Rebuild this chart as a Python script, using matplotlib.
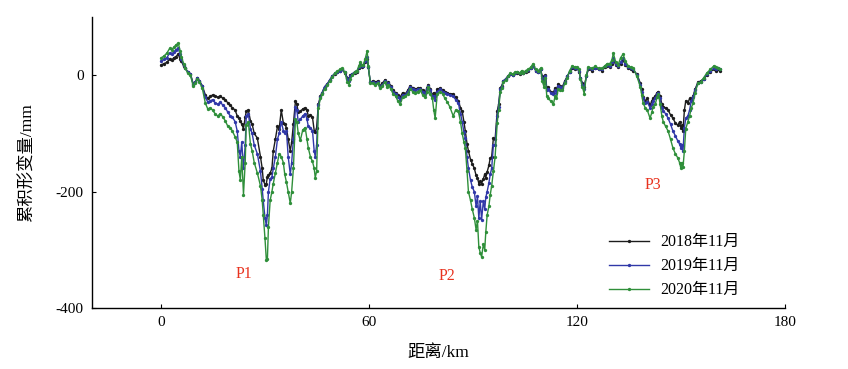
import matplotlib
matplotlib.use("Agg")
import matplotlib.pyplot as plt

plt.rcParams['font.family'] = ['Liberation Serif', 'Noto Sans CJK SC']
plt.rcParams['axes.unicode_minus'] = False

# distance along profile (km)
dist_km = [
    0.0, 0.8, 1.6, 2.4, 3.0, 3.6, 4.2, 4.9, 5.4, 5.8, 6.4, 6.9, 7.6, 8.4, 9.2, 9.8,
    10.4, 11.0, 11.8, 12.7, 13.4, 14.1, 14.8, 15.6, 16.3, 17.0, 17.8, 18.5, 19.2, 19.9,
    20.5, 21.3, 21.9, 22.4, 22.8, 23.2, 23.7, 24.2, 24.5, 25.1, 25.7, 26.2, 26.8, 27.7,
    28.6, 29.1, 29.4, 29.9, 30.3, 30.6, 30.9, 31.4, 31.9, 32.3, 32.9, 33.5, 34.0, 34.6,
    35.2, 35.6, 36.1, 36.6, 37.2, 37.6, 38.1, 38.7, 39.1, 39.5, 40.1, 40.8, 41.5, 42.0,
    42.4, 43.0, 43.6, 44.1, 44.4, 44.8, 45.3, 45.9, 46.4, 47.1, 47.9, 48.6, 49.3, 50.0,
    50.8, 51.5, 52.2, 52.9, 53.7, 54.2, 54.5, 55.1, 55.8, 56.5, 57.0, 57.4, 57.9, 58.3,
    58.8, 59.4, 59.7, 60.3, 61.0, 61.7, 62.4, 63.1, 63.8, 64.5, 65.1, 65.5, 66.2, 66.9,
    67.6, 68.2, 68.9, 69.6, 70.4, 71.1, 71.8, 72.5, 73.3, 74.0, 74.7, 75.4, 76.2, 76.6,
    77.0, 77.6, 78.2, 78.6, 79.0, 79.6, 80.5, 81.2, 81.8, 82.5, 83.2, 84.2, 84.9, 85.7,
    86.3, 86.8, 87.3, 87.7, 88.2, 88.6, 89.2, 89.7, 90.3, 90.8, 91.2, 91.6, 92.0, 92.4,
    92.9, 93.3, 93.6, 94.0, 94.5, 94.9, 95.3, 95.8, 96.3, 96.9, 97.3, 97.8, 98.2, 98.7,
    99.4, 100.0, 100.7, 101.4, 102.0, 102.7, 103.4, 104.0, 104.4, 105.1, 105.9, 106.6,
    107.3, 108.0, 108.8, 109.4, 109.9, 110.4, 110.8, 111.2, 111.6, 112.3, 113.1, 113.6,
    114.0, 114.5, 115.1, 115.7, 116.4, 117.1, 117.8, 118.6, 119.3, 120.0, 120.5, 120.9,
    121.5, 122.0, 122.6, 123.2, 124.2, 125.2, 126.2, 127.2, 127.9, 128.7, 129.4, 130.0,
    130.4, 131.1, 131.8, 132.5, 133.2, 133.9, 134.7, 135.4, 136.2, 137.2, 138.2, 138.6,
    139.0, 139.6, 140.2, 141.0, 141.5, 141.9, 142.5, 143.0, 143.4, 143.9, 144.4, 144.8,
    145.5, 146.2, 146.9, 147.6, 148.3, 149.0, 149.5, 149.9, 150.2, 150.5, 150.9, 151.3,
    151.9, 152.4, 152.9, 153.4, 154.0, 154.8, 155.6, 156.5, 157.4, 158.4, 159.4, 160.0,
    160.6, 161.2,
]

# cumulative deformation (mm), 2018-11
def_2018 = [
    18, 20, 22, 28, 26, 30, 32, 36, 28, 24, 16, 12, 6, 2, -15, -12,
    -4, -10, -18, -34, -40, -36, -34, -36, -38, -36, -40, -42, -48, -52,
    -56, -60, -70, -74, -78, -84, -92, -72, -62, -60, -78, -84, -100, -108,
    -140, -160, -180, -188, -186, -175, -172, -168, -160, -130, -110, -88, -92, -60,
    -82, -84, -90, -110, -130, -115, -84, -44, -50, -64, -62, -58, -56, -60,
    -70, -68, -72, -95, -98, -90, -50, -36, -30, -20, -15, -8, -2, 2,
    6, 8, 10, 4, -4, -8, 0, 2, 4, 6, 12, 18, 14, 15,
    22, 28, 14, -12, -10, -12, -10, -18, -14, -8, -15, -12, -18, -26,
    -30, -34, -38, -30, -32, -26, -18, -22, -24, -22, -22, -26, -30, -22,
    -16, -24, -34, -30, -36, -24, -22, -26, -28, -30, -32, -32, -38, -44,
    -56, -62, -80, -96, -118, -130, -145, -152, -160, -172, -176, -186, -182, -186,
    -178, -170, -176, -166, -155, -142, -140, -108, -110, -62, -50, -22, -18, -10,
    -6, -2, 2, 0, 4, 4, 2, 6, 3, 6, 8, 12,
    16, 8, 6, 10, -2, -12, 0, -22, -20, -28, -30, -22,
    -26, -15, -18, -20, -10, -2, 5, 12, 10, 12, 6, -4,
    -14, -20, -2, 10, 8, 12, 10, 8, 14, 16, 14, 20,
    26, 18, 14, 20, 26, 18, 12, 10, 8, 2, -14, -24,
    -38, -44, -40, -52, -44, -40, -36, -30, -28, -36, -50, -54,
    -56, -60, -68, -74, -82, -86, -80, -90, -86, -96, -60, -44,
    -48, -40, -42, -36, -24, -12, -10, -6, 0, 6, 10, 8,
    10, 8,
]

# cumulative deformation (mm), 2019-11
def_2019 = [
    25, 27, 30, 38, 36, 40, 44, 46, 36, 28, 18, 12, 6, 2, -16, -12,
    -5, -10, -19, -38, -46, -44, -42, -48, -50, -46, -52, -56, -64, -70,
    -72, -80, -96, -130, -140, -115, -160, -120, -70, -66, -92, -100, -120, -135,
    -165, -195, -215, -245, -258, -240, -200, -178, -175, -160, -140, -110, -100, -80,
    -95, -100, -96, -140, -170, -150, -110, -55, -60, -80, -76, -70, -66, -75,
    -88, -90, -95, -130, -140, -120, -52, -38, -30, -20, -15, -8, -2, 3,
    6, 8, 11, 5, -6, -10, -2, 2, 6, 8, 14, 20, 16, 16,
    25, 32, 14, -12, -12, -14, -12, -20, -16, -10, -17, -14, -20, -28,
    -32, -38, -42, -34, -34, -28, -20, -24, -26, -24, -24, -28, -32, -24,
    -18, -26, -36, -36, -42, -28, -24, -28, -30, -32, -34, -36, -42, -48,
    -66, -80, -98, -108, -140, -160, -180, -192, -200, -225, -208, -246, -216, -248,
    -216, -230, -210, -200, -185, -170, -160, -120, -120, -70, -54, -24, -20, -10,
    -6, -2, 2, 1, 4, 5, 3, 6, 3, 7, 9, 12,
    16, 8, 6, 10, -4, -14, -2, -26, -24, -30, -32, -26,
    -30, -18, -20, -22, -12, -2, 6, 14, 12, 13, 8, -4,
    -16, -24, -2, 12, 10, 13, 11, 10, 15, 18, 16, 22,
    30, 20, 16, 22, 30, 20, 14, 12, 10, 0, -16, -28,
    -40, -48, -46, -56, -50, -44, -40, -32, -30, -40, -56, -62,
    -66, -74, -84, -96, -104, -113, -118, -125, -120, -130, -90, -74,
    -70, -60, -44, -38, -26, -14, -11, -6, 2, 8, 12, 10,
    12, 10,
]

# cumulative deformation (mm), 2020-11
def_2020 = [
    30, 33, 38, 46, 44, 48, 52, 55, 42, 32, 20, 12, 4, 0, -19, -14,
    -6, -12, -22, -48, -58, -56, -60, -67, -70, -66, -72, -79, -88, -90,
    -96, -106, -115, -165, -180, -140, -205, -150, -85, -80, -118, -130, -150, -168,
    -190, -215, -240, -280, -318, -316, -260, -215, -200, -186, -168, -150, -135, -140,
    -150, -170, -184, -200, -220, -200, -160, -75, -80, -100, -112, -94, -90, -110,
    -125, -140, -148, -160, -176, -165, -56, -40, -32, -24, -17, -10, -3, 3,
    7, 10, 12, 5, -12, -16, -6, 0, 6, 8, 16, 22, 18, 18,
    28, 42, 16, -14, -14, -16, -14, -22, -18, -12, -20, -16, -24, -32,
    -36, -44, -50, -38, -36, -32, -24, -28, -30, -28, -26, -34, -38, -28,
    -20, -32, -40, -60, -74, -32, -28, -32, -40, -46, -54, -70, -60, -62,
    -80, -100, -115, -125, -165, -200, -215, -230, -245, -265, -250, -295, -305, -312,
    -290, -300, -270, -240, -225, -205, -190, -165, -140, -82, -60, -28, -22, -12,
    -8, -2, 3, 2, 5, 6, 4, 8, 4, 8, 10, 14,
    20, 10, 8, 12, -10, -20, -4, -36, -40, -44, -50, -36,
    -40, -24, -26, -26, -14, -4, 8, 16, 14, 14, 10, -6,
    -20, -32, 0, 14, 12, 15, 12, 12, 16, 20, 20, 26,
    38, 22, 18, 30, 36, 24, 16, 14, 12, -2, -20, -34,
    -48, -56, -60, -74, -64, -54, -50, -38, -32, -50, -70, -80,
    -88, -96, -110, -125, -135, -142, -150, -160, -150, -158, -130, -92,
    -80, -70, -56, -48, -30, -14, -12, -4, 4, 10, 16, 14,
    12, 10,
]

series_labels = ['2018年11月', '2019年11月', '2020年11月']
series_colors = ['#1c1c1c', '#3038a8', '#2f8f3a']

peak_labels = ['P1', 'P2', 'P3']
peak_x = [23.7, 82.5, 141.9]
peak_y = [-342, -344, -188]

fig = plt.figure(figsize=(8.48, 3.69), dpi=100)
ax = fig.add_axes([0.1085, 0.165, 0.8175, 0.789])

for vals, lab, col in zip([def_2018, def_2019, def_2020], series_labels, series_colors):
    ax.plot(dist_km, vals, color=col, lw=1.0, marker='o', ms=2.4,
            markeredgewidth=0, label=lab)

for txt, px, py in zip(peak_labels, peak_x, peak_y):
    ax.text(px, py, txt, color='#e8321e', fontsize=11.5, ha='center', va='center')

ax.set_xlim(-20, 180)
ax.set_ylim(-400, 100)
ax.set_xticks([0, 60, 120, 180])
ax.set_yticks([-400, -200, 0])
ax.tick_params(direction='in', length=3, width=0.8, labelsize=11, pad=6)

for side in ['top', 'right']:
    ax.spines[side].set_visible(False)
for side in ['left', 'bottom']:
    ax.spines[side].set_linewidth(1.0)

ax.set_xlabel('距离/km', fontsize=12.5, labelpad=11)
ax.set_ylabel('累积形变量/mm', fontsize=12.5, labelpad=14)

ax.legend(loc='lower right', bbox_to_anchor=(0.955, -0.015), frameon=False,
          fontsize=11.5, handlelength=2.5, labelspacing=0.5, handletextpad=0.7)

fig.savefig('out.png', dpi=100)
